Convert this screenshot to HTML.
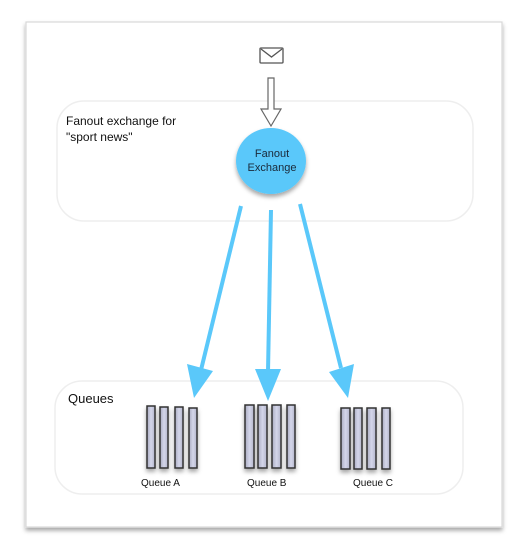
<!DOCTYPE html>
<html><head><style>
body{margin:0;background:#fff;width:523px;height:550px;overflow:hidden;font-family:"Liberation Sans",sans-serif}
</style></head><body>
<svg width="523" height="550" viewBox="0 0 523 550" xmlns="http://www.w3.org/2000/svg" font-family="Liberation Sans, sans-serif">
<defs>
<linearGradient id="bar" x1="0" x2="1"><stop offset="0" stop-color="#a9abc0"/><stop offset="0.5" stop-color="#d4d6ea"/><stop offset="1" stop-color="#b3b5ca"/></linearGradient>
<filter id="sh" x="-20%" y="-20%" width="140%" height="150%"><feDropShadow dx="0" dy="3" stdDeviation="2" flood-opacity="0.35"/></filter>
</defs>
<rect x="26" y="22" width="476" height="505" fill="#fff" stroke="#d8d8d8" stroke-width="1.2" filter="url(#sh)"/>
<rect x="57" y="101" width="416" height="120" rx="27" fill="#fff" stroke="#eeeeee" stroke-width="1.5"/>
<rect x="55" y="381" width="408" height="113" rx="27" fill="#fff" stroke="#eeeeee" stroke-width="1.5"/>
<rect x="260" y="48" width="23" height="15" rx="1" fill="#fff" stroke="#555" stroke-width="1.3"/>
<polyline points="261,49 271.5,57 282,49" fill="none" stroke="#555" stroke-width="1.3"/>
<polygon points="268,78 274,78 274,109 281,109 271,126 261,109 268,109" fill="#fff" stroke="#666" stroke-width="1.2"/>
<text x="66" y="125" font-size="12" fill="#111">Fanout exchange for</text>
<text x="66" y="141" font-size="12" fill="#111">"sport news"</text>
<ellipse cx="271" cy="161" rx="35" ry="33" fill="#5ac8fa" filter="url(#sh)"/>
<text x="272" y="157" font-size="11" fill="#1a2a3a" text-anchor="middle">Fanout</text>
<text x="272" y="171" font-size="11" fill="#1a2a3a" text-anchor="middle">Exchange</text>
<g stroke="#5ac8fa" stroke-width="4" fill="#5ac8fa">
<line x1="241" y1="206" x2="201" y2="370"/>
<line x1="271" y1="210" x2="268" y2="372"/>
<line x1="300" y1="204" x2="341" y2="368"/>
</g>
<g fill="#5ac8fa">
<polygon points="194,398 187,364 213,371"/>
<polygon points="268,401 255,369 281,369"/>
<polygon points="348,398 329,372 354,364"/>
</g>
<text x="68" y="403" font-size="13" fill="#111">Queues</text>
<g fill="url(#bar)" stroke="#333" stroke-width="1.5" filter="url(#sh)">
<rect x="147" y="406" width="8" height="62"/><rect x="160" y="407" width="8" height="61"/><rect x="175" y="407" width="8" height="61"/><rect x="189" y="408" width="8" height="60"/>
<rect x="245" y="405" width="9" height="63"/><rect x="258" y="405" width="9" height="63"/><rect x="272" y="405" width="9" height="63"/><rect x="287" y="405" width="8" height="63"/>
<rect x="341" y="408" width="9" height="61"/><rect x="354" y="408" width="8" height="61"/><rect x="367" y="408" width="9" height="61"/><rect x="382" y="408" width="8" height="61"/>
</g>
<g font-size="10" fill="#111">
<text x="141" y="486">Queue A</text>
<text x="247" y="486">Queue B</text>
<text x="353" y="486">Queue C</text>
</g>
</svg>
</body></html>
